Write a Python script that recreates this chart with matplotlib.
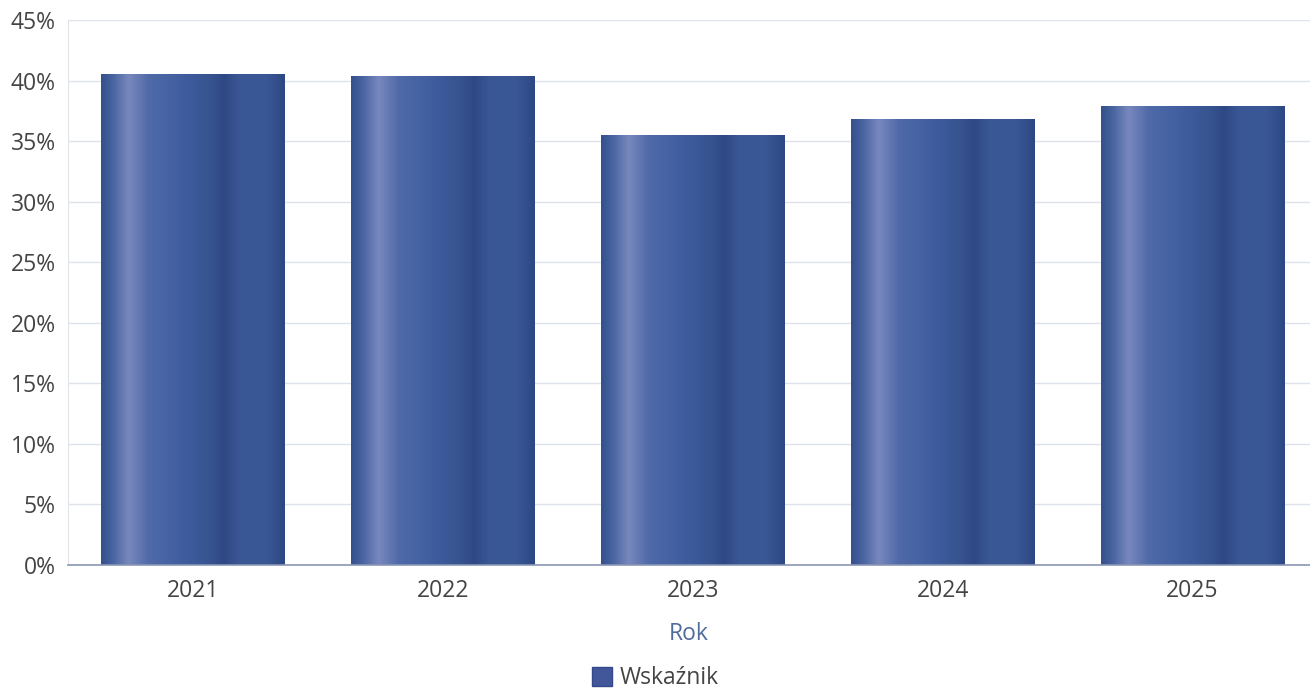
import numpy as np
import matplotlib
matplotlib.use("Agg")
import matplotlib.pyplot as plt
from matplotlib.colors import LinearSegmentedColormap
from matplotlib.patches import Patch
from matplotlib.ticker import FuncFormatter

plt.rcParams['font.family'] = ['Open Sans', 'DejaVu Sans']

years = ['2021', '2022', '2023', '2024', '2025']
values = [40.5, 40.4, 35.5, 36.8, 37.9]
series_name = 'Wskaźnik'
x_label = 'Rok'

# shading across the bar width, dark edges with a light stripe on the left
shade = LinearSegmentedColormap.from_list('bar_shade', [
    (0.00, '#34518c'), (0.06, '#4763a0'), (0.15, '#7888be'), (0.26, '#4f6aa8'),
    (0.45, '#3f5d9e'), (0.60, '#36538f'), (0.67, '#2e4884'), (0.76, '#3b5896'),
    (0.90, '#3a5795'), (1.00, '#2c4884')])

fig = plt.figure(figsize=(13.1, 6.89), dpi=100)
ax = fig.add_axes([0.052, 0.18, 0.948, 0.791])

xs = np.arange(len(years))
bars = ax.bar(xs, values, width=0.735, color='none', zorder=2)
grad = np.linspace(0, 1, 256).reshape(1, -1)
for b in bars:
    x0, y0 = b.get_x(), b.get_y()
    im = ax.imshow(grad, cmap=shade, aspect='auto', zorder=2,
                   extent=(x0, x0 + b.get_width(), y0, y0 + b.get_height()))
    im.set_clip_path(b)

ax.set_xlim(-0.5, 4.47)
ax.set_ylim(0, 45)
ax.set_yticks(np.arange(0, 46, 5))
ax.yaxis.set_major_formatter(FuncFormatter(lambda v, p: f'{v:.0f}%'))
ax.set_xticks(xs)
ax.set_xticklabels(years)
ax.grid(axis='y', color='#dde2ec', linewidth=1, zorder=0)
ax.set_axisbelow(True)

for s in ['top', 'right']:
    ax.spines[s].set_visible(False)
ax.spines['left'].set_color('#e2e4ea')
ax.spines['bottom'].set_color('#8a96b4')
ax.spines['bottom'].set_linewidth(1.2)
ax.tick_params(axis='both', length=0, labelsize=16.5, labelcolor='#444444')
ax.tick_params(axis='y', pad=9)
ax.tick_params(axis='x', pad=10)
ax.set_xlabel(x_label, fontsize=16.5, color='#4f6b9c', labelpad=14)

fig.legend(handles=[Patch(facecolor='#42579a', edgecolor='#34488a')], labels=[series_name],
           loc='center', bbox_to_anchor=(0.5, 0.016), frameon=False,
           fontsize=16.5, handlelength=0.9, handleheight=0.9, handletextpad=0.3,
           labelcolor='#444444')

fig.savefig('out.png', dpi=100)
